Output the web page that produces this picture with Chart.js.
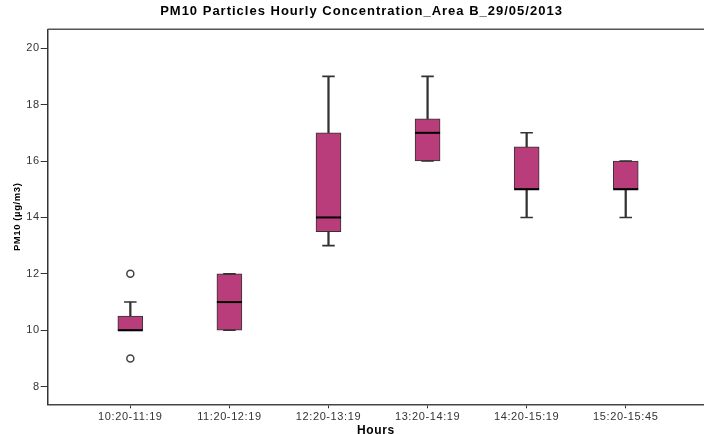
<!DOCTYPE html>
<html>
<head>
<meta charset="utf-8">
<script src="https://cdn.jsdelivr.net/npm/chart.js@4/dist/chart.umd.min.js"></script>
<style>
html,body{margin:0;padding:0;background:#fff;overflow:hidden}
canvas{display:block}
</style>
</head>
<body>
<canvas id="mychart" width="704" height="434"></canvas>
<script>
// box plot values
var hours=["10:20-11:19","11:20-12:19","12:20-13:19","13:20-14:19","14:20-15:19","15:20-15:45"]
var whiskerLow=[10,10,13,16,14,14]
var q1=[10,10,13.5,16,15,15]
var median=[10,11,14,17,15,15]
var q3=[10.5,12,17,17.5,16.5,16]
var whiskerHigh=[11,12,19,19,17,16]
var outliers=[[12,9],[],[],[],[],[]]
var yTicks=[8,10,12,14,16,18,20]

var boxColor="#b93d7b"
var lineColor="#333333"
var font="'Liberation Sans', Arial, sans-serif"

var boxes=[]
var whiskers=[]
var points=[]
for(var i=0;i<hours.length;i++){
    boxes.push({x:i,y:[q1[i],q3[i]]})
    whiskers.push({x:i,y:[whiskerLow[i],whiskerHigh[i]]})
    outliers[i].forEach(function(v){ points.push({x:i,y:v}) })
}

// caps, medians and top frame line
var boxExtras={
    id:"boxExtras",
    afterLayout:function(chart){
        var t=chart.titleBlock
        if(!t) return
        // SPSS centres the title a little right of the canvas middle, and spaces it wider
        t.left+=16
        if(!t._wide){
            var draw=t.draw
            t.draw=function(){
                var old=chart.ctx.letterSpacing
                chart.ctx.letterSpacing="1px"
                draw.apply(this,arguments)
                chart.ctx.letterSpacing=old
            }
            t._wide=true
        }
    },
    beforeDraw:function(chart){
        // the SPSS labels are spaced wider than Arial
        chart.ctx.letterSpacing="0.6px"
    },
    afterDatasetsDraw:function(chart){
        var ctx=chart.ctx
        var xs=chart.scales.x, ys=chart.scales.y
        var half=12.5
        ctx.save()
        ctx.strokeStyle=lineColor
        ctx.lineWidth=1.6
        for(var i=0;i<hours.length;i++){
            var cx=xs.getPixelForValue(i)
            ctx.beginPath()
            var yh=ys.getPixelForValue(whiskerHigh[i])
            var yl=ys.getPixelForValue(whiskerLow[i])
            ctx.moveTo(cx-half/2,yh); ctx.lineTo(cx+half/2,yh)
            ctx.moveTo(cx-half/2,yl); ctx.lineTo(cx+half/2,yl)
            ctx.stroke()
            ctx.beginPath()
            ctx.strokeStyle="#000"
            ctx.lineWidth=2
            var ym=ys.getPixelForValue(median[i])
            ctx.moveTo(cx-half,ym); ctx.lineTo(cx+half,ym)
            ctx.stroke()
            ctx.strokeStyle=lineColor
            ctx.lineWidth=1.6
        }
        ctx.beginPath()
        ctx.strokeStyle="#555"
        ctx.lineWidth=1.5
        var a=chart.chartArea
        ctx.moveTo(a.left,a.top); ctx.lineTo(a.right,a.top)
        ctx.stroke()
        ctx.restore()
    }
}

var mychart=document.getElementById("mychart").getContext("2d")
var chart=new Chart(mychart,{
    type:"bar",
    data:{
        datasets:[
            {
                type:"scatter",
                data:points,
                pointStyle:"circle",
                pointRadius:3.5,
                pointBackgroundColor:"#fff",
                pointBorderColor:"#444",
                pointBorderWidth:1.5,
                order:0
            },
            {
                label:"box",
                data:boxes,
                backgroundColor:boxColor,
                borderColor:lineColor,
                borderWidth:1,
                borderSkipped:false,
                barThickness:25,
                grouped:false,
                order:1
            },
            {
                label:"whisker",
                data:whiskers,
                backgroundColor:lineColor,
                borderWidth:0,
                barThickness:1.6,
                grouped:false,
                order:2
            }
        ]
    },
    plugins:[boxExtras],
    options:{
        responsive:false,
        animation:false,
        // the frame runs off the right edge of the picture
        layout:{autoPadding:false,padding:{left:0,top:0,bottom:0,right:-3}},
        plugins:{
            legend:{display:false},
            tooltip:{enabled:false},
            title:{
                display:true,
                text:"PM10 Particles Hourly Concentration_Area B_29/05/2013",
                color:"#000",
                font:{family:font,size:13,weight:"bold",lineHeight:1.2},
                padding:{top:4,bottom:9.7}
            }
        },
        scales:{
            x:{
                type:"linear",
                min:-0.834,
                max:5.79,
                offset:false,
                afterBuildTicks:function(s){ s.ticks=hours.map(function(h,i){return {value:i}}) },
                afterFit:function(s){ s.height=29.7; s.paddingRight=0; s.paddingLeft=0 },
                ticks:{
                    color:"#333",
                    font:{family:font,size:11},
                    padding:2,
                    maxRotation:0,
                    autoSkip:false,
                    callback:function(v){ return hours[v] }
                },
                grid:{drawOnChartArea:false,offset:false,tickLength:4,color:"#333"},
                border:{color:"#444",width:1.5},
                title:{
                    display:true,
                    text:"Hours",
                    color:"#000",
                    font:{family:font,size:12,weight:"bold"},
                    padding:{top:0,bottom:-4}
                }
            },
            y:{
                min:7.376,
                max:20.67,
                afterBuildTicks:function(s){ s.ticks=yTicks.map(function(v){return {value:v}}) },
                afterFit:function(s){ s.width=47.7 },
                ticks:{
                    color:"#333",
                    font:{family:font,size:11},
                    padding:1
                },
                grid:{drawOnChartArea:false,tickLength:7,color:"#333"},
                border:{color:"#333",width:1.5},
                title:{
                    display:true,
                    text:"PM10 (µg/m3)",
                    color:"#000",
                    font:{family:font,size:9.5,weight:"bold"},
                    padding:{top:12,bottom:0}
                }
            }
        }
    }
})
</script>
</body>
</html>
